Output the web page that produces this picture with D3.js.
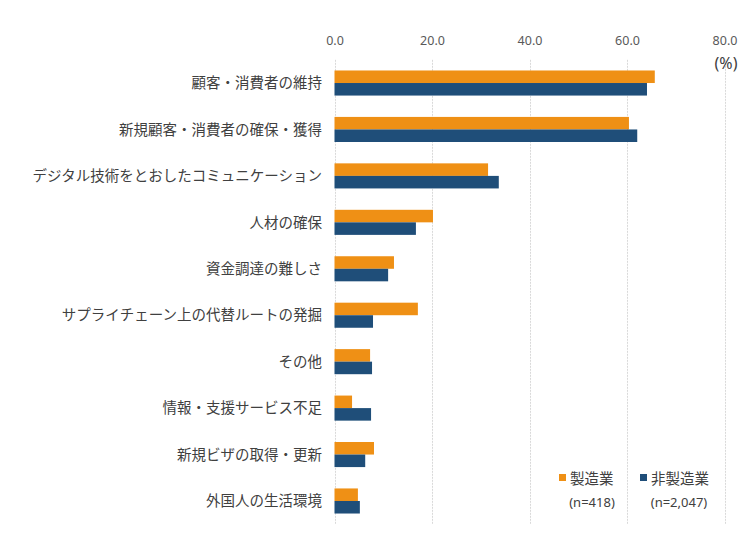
<!DOCTYPE html>
<html><head><meta charset="utf-8">
<script src="https://cdn.jsdelivr.net/npm/d3@7"></script>
<style>body{margin:0;background:#fff;}svg{display:block;font-family:"Noto Sans CJK JP","Noto Sans",sans-serif;}</style>
</head><body>
<svg id="chart" width="750" height="560"></svg>
<script>
const categories = ["顧客・消費者の維持","新規顧客・消費者の確保・獲得","デジタル技術をとおしたコミュニケーション","人材の確保","資金調達の難しさ","サプライチェーン上の代替ルートの発掘","その他","情報・支援サービス不足","新規ビザの取得・更新","外国人の生活環境"];
const seriesNames = ["製造業","非製造業"];
const seriesN = ["(n=418)","(n=2,047)"];
const manufacturing = [65.7,60.4,31.5,20.2,12.2,17.1,7.3,3.6,8.1,4.8];
const nonManufacturing = [64.1,62.1,33.7,16.7,11.0,7.9,7.7,7.5,6.3,5.2];
const xTicks = [0,20,40,60,80];
const colors = ["#EF9015","#1F4E79"];

const svg = d3.select("#chart");
const pLeft = 334.5, pRight = 724.5, pTop = 59.8, pBottom = 524.2;
const x = d3.scaleLinear().domain([0,80]).range([pLeft,pRight]);
const y = d3.scaleBand().domain(categories).range([pTop,pBottom]).paddingInner(0.46).paddingOuter(0.23);
const sub = d3.scaleBand().domain([0,1]).range([0,y.bandwidth()]);

// gridlines
svg.append("g").selectAll("line").data(xTicks).join("line")
  .attr("x1",d=>Math.round(x(d))+0.5).attr("x2",d=>Math.round(x(d))+0.5)
  .attr("y1",pTop).attr("y2",pBottom)
  .attr("stroke","#d9d9d9").attr("stroke-width",1).attr("stroke-dasharray","2,1");

// top axis labels
const ax = d3.axisTop(x).tickValues(xTicks).tickFormat(d3.format(".1f")).tickSize(0).tickPadding(0);
const axg = svg.append("g").attr("transform",`translate(0,${45})`).call(ax);
axg.select(".domain").remove();
axg.selectAll("text").attr("fill","#595959").style("font-size","12.5px").style("font-family","'Noto Sans','DejaVu Sans',sans-serif");

svg.append("text").attr("x",726).attr("y",63).attr("dy","0.36em").attr("text-anchor","middle")
  .attr("fill","#404040").style("font-size","16px").style("font-family","'Noto Sans',sans-serif").text("(%)");

const data = [manufacturing, nonManufacturing];
data.forEach((vals,si)=>{
  svg.append("g").selectAll("rect").data(vals).join("rect")
    .attr("x",x(0)).attr("y",(d,i)=>y(categories[i])+sub(si))
    .attr("width",d=>x(d)-x(0)).attr("height",sub.bandwidth())
    .attr("fill",colors[si]);
});

// category labels
svg.append("g").selectAll("text").data(categories).join("text")
  .attr("x",322).attr("y",d=>y(d)+y.bandwidth()/2).attr("dy","0.36em")
  .attr("text-anchor","end").attr("fill","#404040").style("font-size","14.5px").text(d=>d);

// legend
const lg = [{x:559,tx:570},{x:640,tx:651}];
lg.forEach((p,i)=>{
  svg.append("rect").attr("x",p.x).attr("y",474).attr("width",7).attr("height",7).attr("fill",colors[i]);
  svg.append("text").attr("x",p.tx).attr("y",479).attr("dy","0.36em").attr("fill","#404040").style("font-size","14.5px").text(seriesNames[i]);
});
svg.append("text").attr("x",592).attr("y",502).attr("dy","0.36em").attr("text-anchor","middle").attr("fill","#404040").style("font-size","13px").style("font-family","'Noto Sans',sans-serif").text(seriesN[0]);
svg.append("text").attr("x",679).attr("y",502).attr("dy","0.36em").attr("text-anchor","middle").attr("fill","#404040").style("font-size","13px").style("font-family","'Noto Sans',sans-serif").text(seriesN[1]);
</script>
</body></html>
